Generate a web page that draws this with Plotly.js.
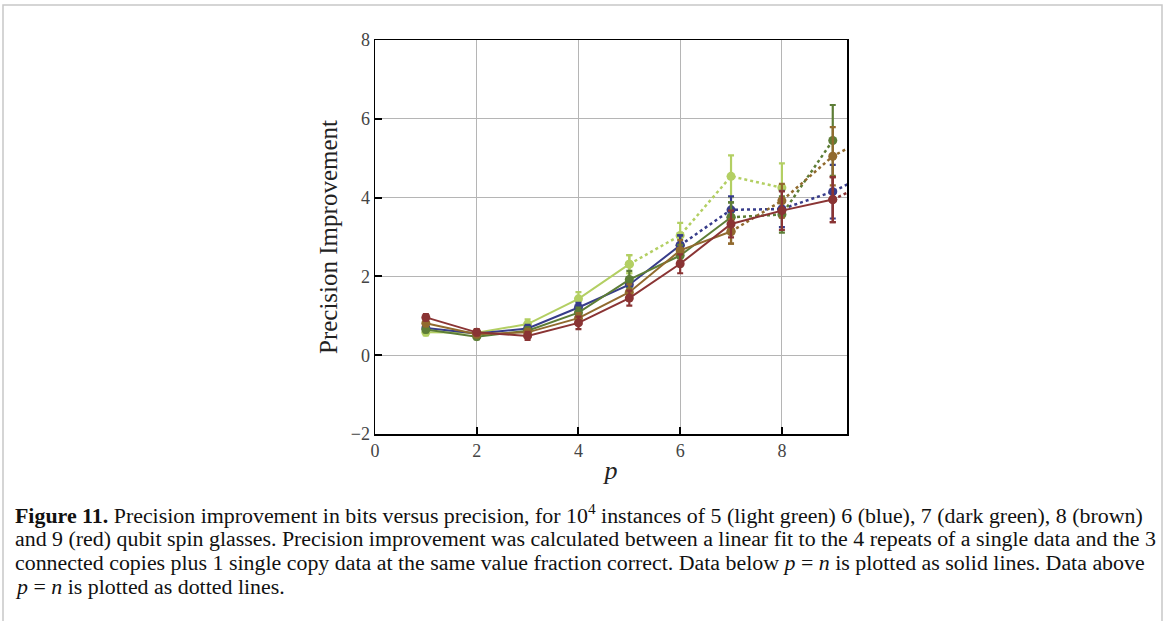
<!DOCTYPE html>
<html>
<head>
<meta charset="utf-8">
<script src="https://cdn.plot.ly/plotly-3.0.1.min.js"></script>
<style>
  html, body { margin: 0; padding: 0; background: #fff; }
  #chart { width: 1166px; height: 621px; }
</style>
</head>
<body>
<div id="chart"></div>
<script>
// ---- data ----
const p = [1, 2, 3, 4, 5, 6, 7, 8, 9, 10];

const seriesNames = ['5 qubits (light green)', '6 qubits (blue)', '7 qubits (dark green)', '8 qubits (brown)', '9 qubits (red)'];
const seriesColors = ['#b3cf63', '#373c8a', '#5d7d36', '#916a2e', '#8a3434'];
const solidUntilP = [5, 6, 7, 7, 9];

const lightGreen    = [0.58, 0.57, 0.79, 1.43, 2.31, 3.04, 4.54, 4.25];
const lightGreenErr = [0.08, 0.08, 0.12, 0.17, 0.23, 0.32, 0.53, 0.62];

const blue          = [0.69, 0.55, 0.68, 1.21, 1.79, 2.79, 3.69, 3.71, 4.15, 4.79];
const blueErr       = [0.07, 0.07, 0.09, 0.12, 0.19, 0.25, 0.34, 0.46, 0.68, 0.80];

const darkGreen     = [0.65, 0.47, 0.62, 1.08, 1.92, 2.53, 3.50, 3.57, 5.45];
const darkGreenErr  = [0.07, 0.07, 0.09, 0.13, 0.22, 0.27, 0.38, 0.46, 0.90];

const brown         = [0.81, 0.53, 0.58, 0.94, 1.60, 2.66, 3.14, 3.92, 5.05, 5.73];
const brownErr      = [0.07, 0.07, 0.09, 0.13, 0.20, 0.26, 0.31, 0.43, 0.74, 0.85];

const red           = [0.96, 0.58, 0.49, 0.82, 1.45, 2.32, 3.33, 3.67, 3.95, 4.56];
const redErr        = [0.08, 0.08, 0.10, 0.16, 0.19, 0.24, 0.34, 0.49, 0.57, 0.65];

const yTicks = [-2, 0, 2, 4, 6, 8];
const xTicks = [0, 2, 4, 6, 8];

const captionLines = [
  '<b>Figure 11.</b> Precision improvement in bits versus precision, for 10<sup>4</sup> instances of 5 (light green) 6 (blue), 7 (dark green), 8 (brown)',
  'and 9 (red) qubit spin glasses. Precision improvement was calculated between a linear fit to the 4 repeats of a single data and the 3',
  'connected copies plus 1 single copy data at the same value fraction correct. Data below <i>p</i> = <i>n</i> is plotted as solid lines. Data above',
  '<i>p</i> = <i>n</i> is plotted as dotted lines.'
];

// ---- build traces ----
const allValues = [lightGreen, blue, darkGreen, brown, red];
const allErrs = [lightGreenErr, blueErr, darkGreenErr, brownErr, redErr];
const traces = [];
allValues.forEach((vals, i) => {
  const xs = p.slice(0, vals.length);
  const cut = xs.indexOf(solidUntilP[i]);
  const color = seriesColors[i];
  const common = {
    type: 'scatter',
    mode: 'lines+markers',
    marker: { color: color, size: 9 },
    showlegend: false,
    cliponaxis: true,
    name: seriesNames[i]
  };
  traces.push(Object.assign({}, common, {
    x: xs.slice(0, cut + 1),
    y: vals.slice(0, cut + 1),
    line: { color: color, width: 2, dash: 'solid' },
    error_y: { type: 'data', array: allErrs[i].slice(0, cut + 1), visible: true, color: color, thickness: 2.2, width: 3 }
  }));
  if (cut < xs.length - 1) {
    traces.push(Object.assign({}, common, {
      x: xs.slice(cut),
      y: vals.slice(cut),
      line: { color: color, width: 2.5, dash: 'dot' },
      error_y: { type: 'data', array: allErrs[i].slice(cut), visible: true, color: color, thickness: 2.2, width: 3 }
    }));
  }
});

// ---- layout ----
const L = 375, R = 847, T = 40, B = 434;
const W = R - L, H = B - T;
const px = v => (v - L) / W;
const py = v => (B - v) / H;

const annotations = captionLines.map((txt, k) => ({
  text: txt,
  xref: 'paper', yref: 'paper',
  x: px(13), y: py(514 + k * 24.3),
  xanchor: 'left', yanchor: 'middle',
  showarrow: false,
  align: 'left',
  font: { family: 'Liberation Serif, Times New Roman, serif', size: 21.9, color: '#111' }
}));

const layout = {
  width: 1166, height: 621,
  margin: { l: L, r: 1166 - R, t: T, b: 621 - B, pad: 0 },
  paper_bgcolor: '#ffffff',
  plot_bgcolor: '#ffffff',
  showlegend: false,
  font: { family: 'Liberation Serif, Times New Roman, serif', color: '#444' },
  xaxis: {
    range: [0, 9.28],
    tickvals: xTicks,
    ticktext: xTicks.map(String),
    ticks: 'inside', ticklen: 7, tickwidth: 2, tickcolor: '#000',
    showline: true, linecolor: '#000', linewidth: 1.5, mirror: true,
    showgrid: true, gridcolor: '#b5b5b5', gridwidth: 1,
    zeroline: false,
    tickfont: { size: 18, color: '#444' },
    title: { text: '<i>p</i>', font: { size: 26, color: '#222' }, standoff: 0 }
  },
  yaxis: {
    range: [-2, 8],
    tickvals: yTicks,
    ticktext: yTicks.map(v => v < 0 ? '\u2212' + Math.abs(v) : String(v)),
    ticks: 'inside', ticklen: 7, tickwidth: 2, tickcolor: '#000',
    showline: true, linecolor: '#000', linewidth: 1.5, mirror: true,
    showgrid: true, gridcolor: '#b5b5b5', gridwidth: 1,
    zeroline: false,
    tickfont: { size: 18, color: '#444' },
    title: { text: 'Precision Improvement', font: { size: 25, color: '#222' }, standoff: 6 }
  },
  shapes: [
    { type: 'rect', xref: 'paper', yref: 'paper',
      x0: px(3), x1: px(1162), y0: py(640), y1: py(5),
      line: { color: '#c8c8c8', width: 1.5 }, fillcolor: 'rgba(0,0,0,0)', layer: 'below' }
  ],
  annotations: annotations
};

Plotly.newPlot('chart', traces, layout, { displayModeBar: false, staticPlot: true });
</script>
</body>
</html>
